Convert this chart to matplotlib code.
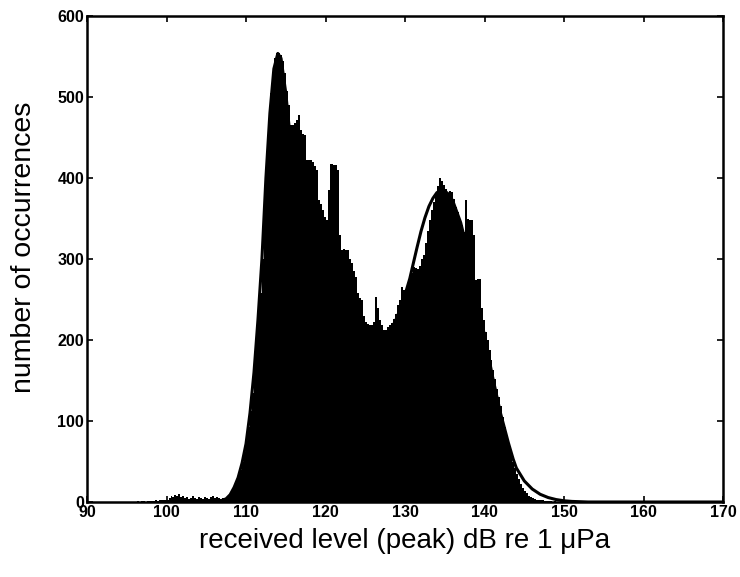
import numpy as np
import matplotlib
matplotlib.use('Agg')
import matplotlib.pyplot as plt

# histogram of received peak levels, 0.25 dB bins starting at 96 dB
bin_start = 96.0
bin_width = 0.25
counts = [
    0, 1, 0, 1, 1, 0, 1, 1,            # 96-97.75
    1, 1, 2, 1, 2, 2, 3, 2,            # 98-99.75
    3, 5, 8, 6, 9, 7, 10, 6,           # 100-101.75
    8, 5, 6, 4, 5, 7, 5, 4,            # 102-103.75
    6, 5, 4, 6, 5, 4, 6, 7,            # 104-105.75
    5, 6, 5, 4, 5, 4, 4, 6,            # 106-107.75
    10, 16, 22, 28, 34, 40, 50, 62,    # 108-109.75
    75, 93, 112, 135, 175, 205, 235, 258,
    300, 385, 430, 470, 505, 530, 548, 555,
    555, 552, 545, 530, 508, 490, 465, 465,
    468, 472, 478, 459, 455, 453, 422, 422,
    422, 420, 415, 410, 373, 368, 360, 352,
    348, 385, 418, 418, 416, 416, 410, 330,
    311, 312, 311, 311, 300, 295, 285, 278,
    258, 252, 249, 230, 222, 220, 218, 218,
    222, 253, 240, 225, 218, 212, 212, 216,
    218, 221, 226, 232, 243, 250, 265, 262,
    262, 270, 275, 283, 290, 289, 288, 292,
    300, 305, 320, 335, 348, 360, 370, 380,
    390, 400, 396, 391, 386, 381, 384, 383,
    374, 364, 358, 350, 342, 333, 373, 350,
    348, 348, 330, 274, 275, 276, 240, 225,
    210, 200, 188, 175, 163, 152, 140, 130,
    118, 105, 92, 80, 70, 60, 50, 42,
    34, 28, 22, 17, 13, 11, 8, 6,
    5, 4, 3, 3, 2, 2, 1, 1,
    1, 1, 0, 1, 0, 0, 1, 0,
]

# fitted curve
curve_x = [104, 106, 107, 107.5, 108, 108.5, 109, 109.5, 110, 110.5, 111, 111.5,
           112, 112.5, 113, 113.5, 114, 114.4, 115, 115.5, 116, 117, 118, 119,
           120, 121, 122, 123, 124, 125, 126, 127, 128, 129, 130, 130.6, 131,
           131.5, 132, 132.5, 133, 133.5, 134, 134.5, 135, 135.5, 136, 137, 138,
           139, 140, 141, 142, 143, 143.6, 144, 145, 146, 147, 148, 149, 150,
           151, 153, 170]
curve_y = [0, 1, 2, 4, 9, 18, 30, 48, 72, 110, 160, 225,
           300, 400, 480, 535, 554, 548, 505, 455, 405, 330, 280, 245,
           220, 203, 193, 187, 185, 185, 190, 197, 208, 228, 256, 276, 293,
           314, 334, 351, 365, 375, 382, 385, 384, 380, 372, 345, 305,
           255, 205, 155, 110, 73, 53, 42, 26, 16, 9.5, 5.5, 3, 1.5,
           0.7, 0, 0]

xticks = [90, 100, 110, 120, 130, 140, 150, 160, 170]
yticks = [0, 100, 200, 300, 400, 500, 600]

plt.rcParams['font.family'] = ['Liberation Sans', 'DejaVu Sans']

fig = plt.figure(figsize=(7.4, 5.77), dpi=100)
ax = fig.add_axes([0.1176, 0.130, 0.8595, 0.842])

lefts = bin_start + bin_width * np.arange(len(counts))
ax.bar(lefts, counts, width=bin_width, align='edge', color='black', linewidth=0)
ax.plot(curve_x, curve_y, color='black', linewidth=2.2)

ax.set_xlim(90, 170)
ax.set_ylim(0, 600)
ax.set_xticks(xticks)
ax.set_yticks(yticks)
tick_font = {'family': ['Liberation Sans Narrow', 'Liberation Sans'], 'weight': 'bold', 'size': 11.5}
ax.set_xticklabels([str(t) for t in xticks], fontdict=tick_font)
ax.set_yticklabels([str(t) for t in yticks], fontdict=tick_font)
ax.tick_params(direction='in', top=True, right=True, length=4, width=1.2, pad=2)
for s in ax.spines.values():
    s.set_linewidth(1.8)

ax.set_xlabel('received level (peak) dB re 1 μPa', fontsize=20, labelpad=6)
ax.set_ylabel('number of occurrences', fontsize=20.5)
ax.yaxis.set_label_coords(-0.078, 0.525)

fig.savefig('out.png', dpi=100)
